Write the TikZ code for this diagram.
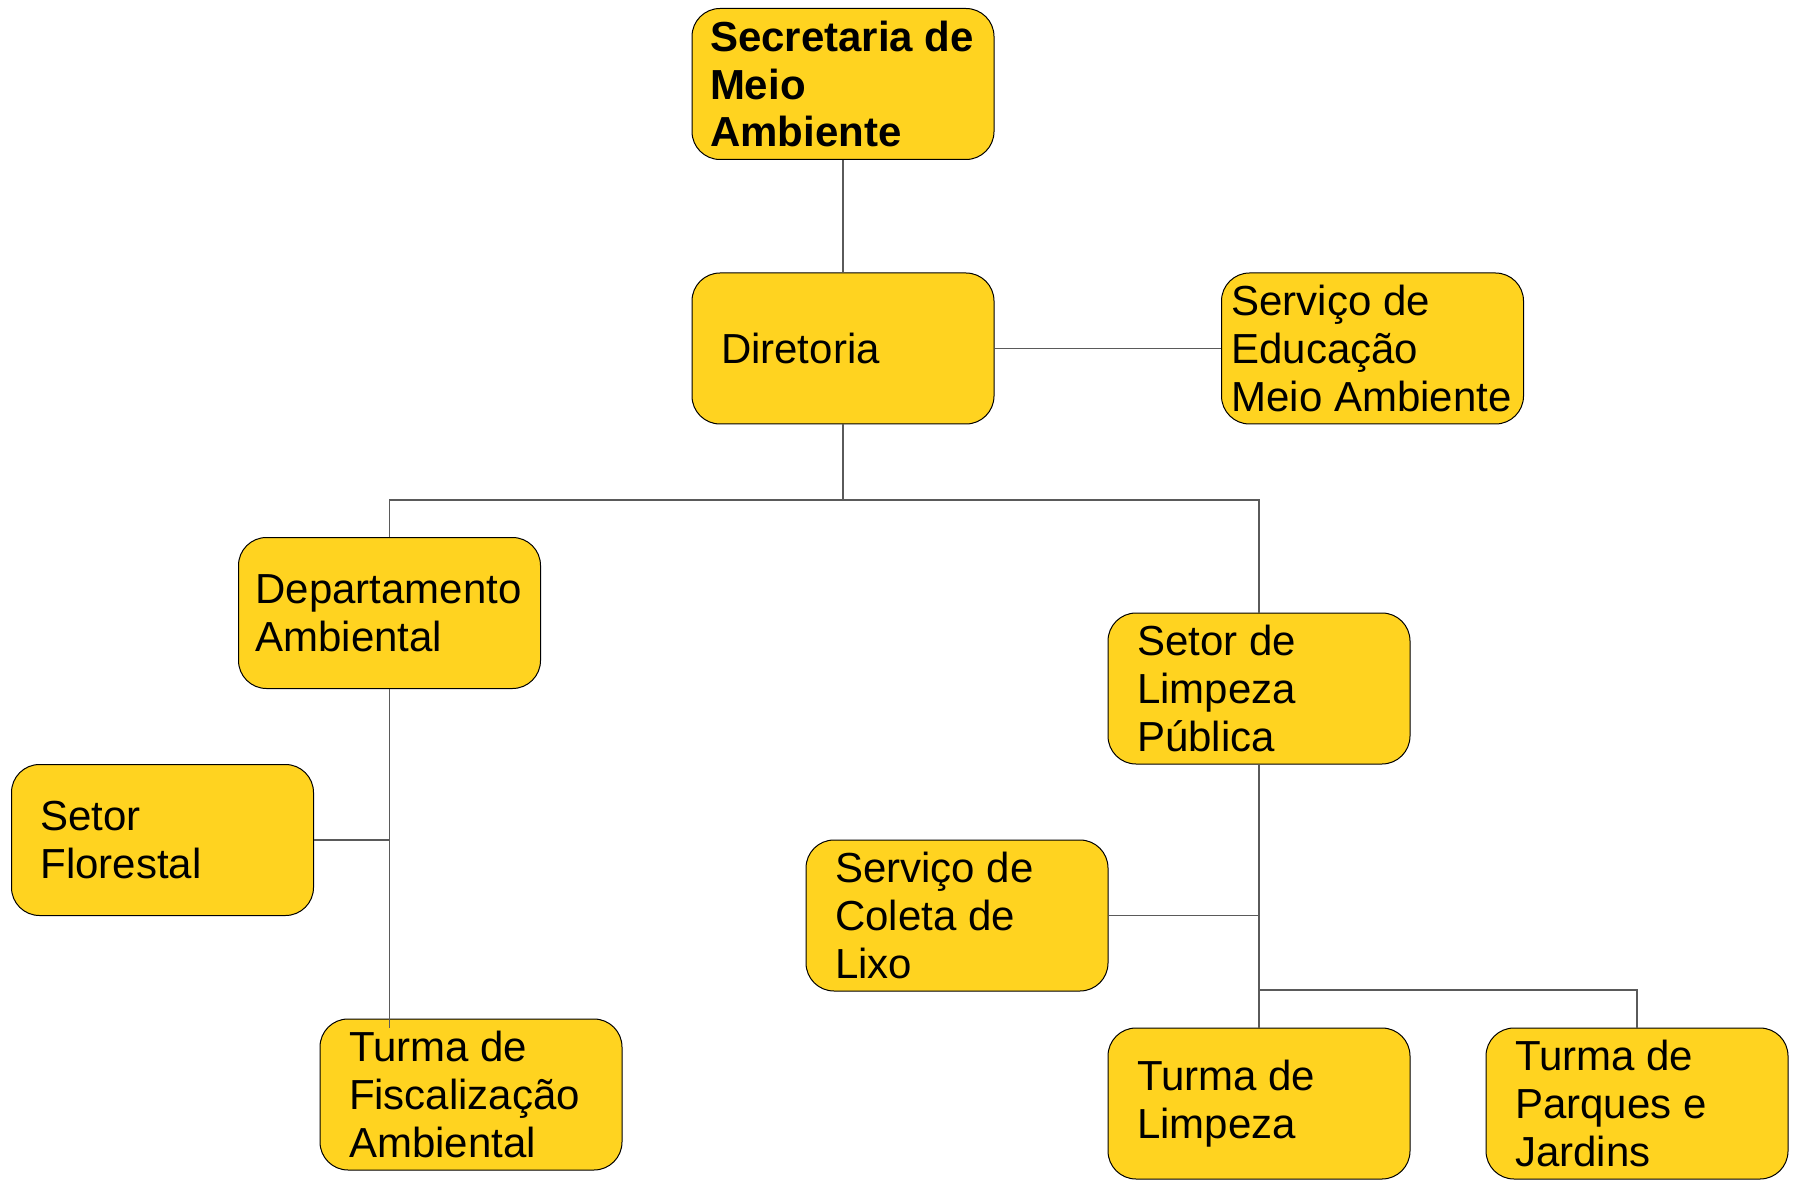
\documentclass[tikz,border=0pt]{standalone}
\usepackage{fontspec}
\setmainfont{Liberation Sans}
\usetikzlibrary{calc}
\definecolor{boxfill}{HTML}{FFD320}
\definecolor{linecol}{HTML}{5A5A5A}
\begin{document}
\begin{tikzpicture}[x=0.5pt,y=-0.5pt,
  box/.style={draw=black, line width=0.5pt, fill=boxfill, rounded corners=14pt,
    minimum height=75.5pt, inner ysep=0pt, inner xsep=14.5pt, text width=122pt,
    align=flush left, font=\fontsize{21}{23.8}\selectfont},
  conn/.style={draw=linecol, line width=0.7pt}]
\useasboundingbox (0,0) rectangle (1797,1181);
\fill[white] (0,0) rectangle (1797,1181);

\node[box, font=\fontsize{21}{23.8}\selectfont\bfseries, inner xsep=9pt, text width=133pt] (sec) at (843,84) {Secretaria de\\Meio\\Ambiente};
\node[box] (dir) at (843,348.5) {Diretoria};
\node[box, inner xsep=5pt, text width=141pt] (edu) at (1372.5,348.5) {Serviço de\\Educação\\Meio Ambiente};
\node[box, inner xsep=8.5pt, text width=134pt] (dep) at (389.5,613) {Departamento\\Ambiental};
\node[box] (flo) at (162.5,840) {Setor\\Florestal};
\node[box] (fis) at (471,1094.5) {Turma de\\Fiscalização\\Ambiental};
\node[box] (lim) at (1259,688.5) {Setor de\\Limpeza\\Pública};
\node[box] (col) at (957,915.5) {Serviço de\\Coleta de\\Lixo};
\node[box] (tli) at (1259,1103.5) {Turma de\\Limpeza};
\node[box] (par) at (1637,1103.5) {Turma de\\Parques e\\Jardins};

\coordinate (j1) at (843,500);
\coordinate (j2) at (1259,990);

\draw[conn] (sec.south) -- (dir.north);
\draw[conn] (dir.east) -- (edu.west);
\draw[conn] (dir.south) -- (j1);
\draw[conn] (dep.north) |- (j1) -| (lim.north);
\draw[conn] (dep.south) -- ([yshift=-4.5pt]dep.south |- fis.north);
\draw[conn] (flo.east) -- (flo.east -| dep.south);
\draw[conn] (lim.south) -- (tli.north);
\draw[conn] (col.east) -- (col.east -| lim.south);
\draw[conn] (j2) -| (par.north);
\end{tikzpicture}
\end{document}
